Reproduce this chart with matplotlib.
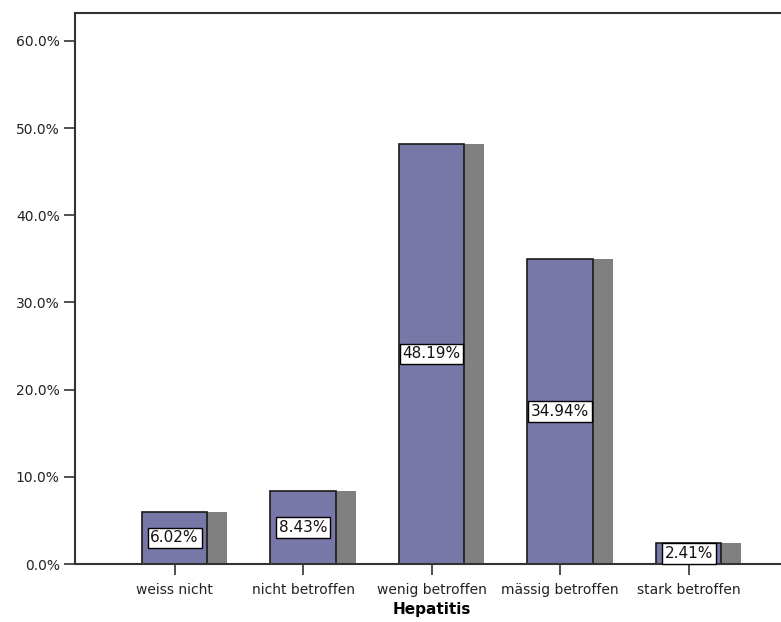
from matplotlib import pyplot as plt
from matplotlib.ticker import FuncFormatter
import numpy as np

categories = ["weiss nicht", "nicht betroffen", "wenig betroffen", "mässig betroffen", "stark betroffen"]
percents = [6.02, 8.43, 48.19, 34.94, 2.41]
x_label = "Hepatitis"

plt.rcParams['font.family'] = ['DejaVu Sans']

fig = plt.figure(figsize=(7.81, 6.22), dpi=100)
ax = fig.add_axes([75/781, 1 - 564/622, 1 - 75/781 + 0.01, (564 - 13)/622])

x = np.arange(len(categories))
width = 0.51
shadow_dx = 0.155

# shadow bars behind
ax.bar(x + shadow_dx, percents, width=width, color='#808080', edgecolor='none', zorder=1)
ax.bar(x, percents, width=width, color='#7878a8', edgecolor='#1a1a1a', linewidth=1.2, zorder=2)

for xi, p in zip(x, percents):
    ax.text(xi, p / 2, f"{p:.2f}%", ha='center', va='center', fontsize=11, zorder=3,
            color='#111111',
            bbox=dict(boxstyle='square,pad=0.18', facecolor='white', edgecolor='black', linewidth=1))

ax.set_xlim(-0.775, 4.78)
ax.set_ylim(0, 63.2)
ax.set_yticks(np.arange(0, 61, 10))
ax.yaxis.set_major_formatter(FuncFormatter(lambda v, pos: f"{v:.1f}%"))
ax.set_xticks(x)
ax.set_xticklabels(categories)
ax.tick_params(axis='both', direction='out', length=8, width=1.2, color='#333333', labelsize=10, labelcolor='#222222')
ax.tick_params(axis='x', pad=6)
ax.tick_params(axis='y', pad=3)

for side in ['left', 'top', 'bottom']:
    ax.spines[side].set_color('#333333')
    ax.spines[side].set_linewidth(1.5)
ax.spines['right'].set_visible(False)

ax.set_xlabel(x_label, fontsize=11, fontweight='bold', labelpad=3)

fig.savefig("out.png", dpi=100)
